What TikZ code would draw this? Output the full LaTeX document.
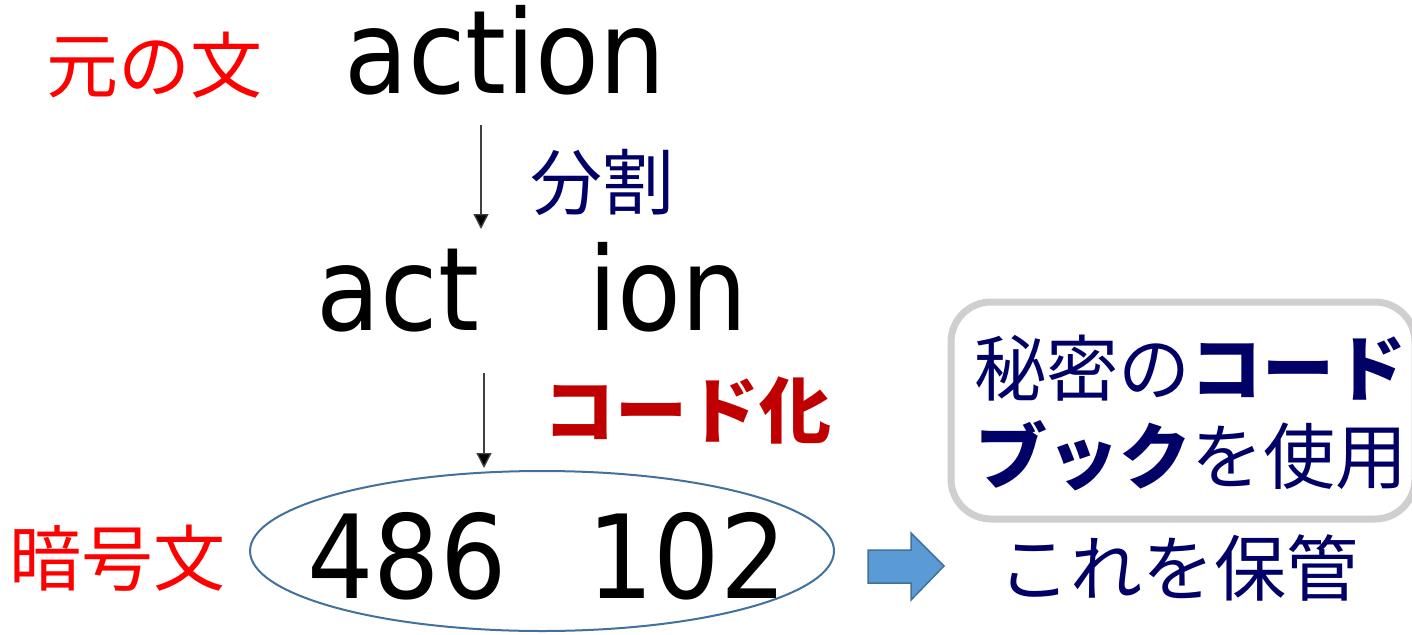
\documentclass[tikz,border=0pt]{standalone}
\usepackage{fontspec}
\setmainfont{DejaVu Sans}
\newfontfamily\jp{Noto Sans CJK JP}
\usetikzlibrary{arrows.meta,shapes.geometric}
\definecolor{navy}{HTML}{000066}
\definecolor{darkred}{HTML}{C00000}
\definecolor{ellblue}{HTML}{41719C}
\definecolor{arrfill}{HTML}{5B9BD5}
\definecolor{boxgray}{HTML}{D0CECE}
\definecolor{linegray}{HTML}{404040}
\begin{document}
\begin{tikzpicture}[x=1pt,y=-1pt,
  lat/.style={inner sep=0, anchor=base, font=\fontsize{116}{116}\selectfont},
  jptext/.style={inner sep=0, anchor=base west, font=\jp\fontsize{72}{88}\selectfont},
  darr/.style={draw=linegray, line width=1.3, -{Triangle[width=15pt,length=15pt,fill=black]}},
  blockarrow/.style={draw=ellblue, line width=1.5, fill=arrfill, line join=miter},
  cbox/.style={draw=boxgray, line width=7, rounded corners=40, outer sep=0, inner sep=0, anchor=north west}
]
\useasboundingbox (0,0) rectangle (1412,634);
\fill[white] (0,0) rectangle (1412,634);

% labels on the left
\node[jptext, text=red] (orig) at (46,92) {元の文};
\node[jptext, text=red] (ango) at (9,585) {暗号文};

% original word
\node[lat] (action) at (505,93) {\scalebox{0.9}[1]{action}};

% split
\node[lat] (act) at (398,330) {\scalebox{0.9}[1]{act}};
\node[lat] (ion) at (668,330) {\scalebox{0.9}[1]{ion}};

% cipher
\node[draw=ellblue, line width=2, ellipse, minimum width=584, minimum height=160, inner sep=0] (cipher) at (542,551) {};
\node[lat] (n486) at (407,598) {\scalebox{0.9}[1]{486}};
\node[lat] (n102) at (687,598) {\scalebox{0.9}[1]{102}};

% arrows
\coordinate (s1) at (481,125);
\coordinate (e1) at (481,229);
\coordinate (s2) at (484,373);
\coordinate (e2) at (484,468);
\draw[darr] (s1) -- (e1);
\draw[darr] (s2) -- (e2);

\node[jptext, text=navy] (split) at (530,209) {分割};
\node[jptext, text=darkred] (encode) at (543,437) {\bfseries コード化};

% block arrow
\draw[blockarrow] (868,550) -- (911,550) -- (911,533) -- (944,566) -- (911,600) -- (911,583) -- (868,583) -- cycle;

% code book box
\node[cbox, minimum width=464, minimum height=217] (box) at (951,302) {};
\node[jptext, text=navy] (cb1) at (974,395) {秘密の{\bfseries コード}};
\node[jptext, text=navy] (cb2) at (975,483) {{\bfseries ブック}を使用};

\node[jptext, text=navy] (keep) at (998,595) {これを保管};
\end{tikzpicture}
\end{document}
